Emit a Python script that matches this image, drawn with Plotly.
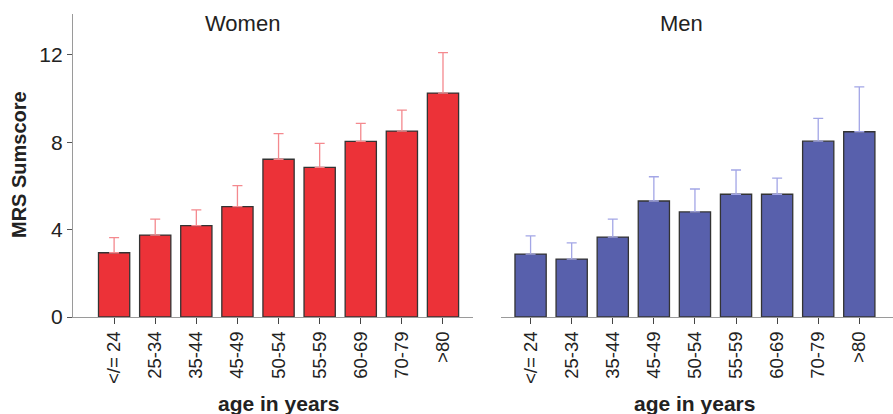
import plotly.graph_objects as go

# Age groups and mean MRS sum scores with upper error bar limits
age_groups = ["</= 24", "25-34", "35-44", "45-49", "50-54", "55-59", "60-69", "70-79", ">80"]

women_mean = [2.94, 3.75, 4.18, 5.05, 7.22, 6.85, 8.04, 8.51, 10.25]
women_upper = [3.63, 4.48, 4.90, 6.01, 8.39, 7.95, 8.86, 9.47, 12.10]

men_mean = [2.88, 2.65, 3.66, 5.31, 4.81, 5.62, 5.62, 8.05, 8.48]
men_upper = [3.71, 3.39, 4.48, 6.42, 5.86, 6.73, 6.36, 9.09, 10.53]

y_ticks = [0, 4, 8, 12]

W, H = 893, 414
TOP, BOTTOM = 14, 97
FONT = "Liberation Sans, Arial, sans-serif"

women_err = [u - m for u, m in zip(women_upper, women_mean)]
men_err = [u - m for u, m in zip(men_upper, men_mean)]


def py(pixel_y):
    """Convert a page pixel row to paper y (paper spans the plot area)."""
    return 1 - (pixel_y - TOP) / (H - TOP - BOTTOM)


fig = go.Figure()

fig.add_trace(go.Bar(
    x=age_groups, y=women_mean, xaxis="x", yaxis="y",
    width=0.76,
    marker=dict(color="#EC3238", line=dict(color="#333333", width=1.3)),
    error_y=dict(type="data", symmetric=False, array=women_err,
                 arrayminus=[0] * len(women_err),
                 color="#F4898E", thickness=1.3, width=5),
    showlegend=False,
))

fig.add_trace(go.Bar(
    x=age_groups, y=men_mean, xaxis="x2", yaxis="y2",
    width=0.76,
    marker=dict(color="#5860AC", line=dict(color="#333333", width=1.3)),
    error_y=dict(type="data", symmetric=False, array=men_err,
                 arrayminus=[0] * len(men_err),
                 color="#A3A6E6", thickness=1.3, width=5),
    showlegend=False,
))

y_range = [0, 13.87]
tick_font = dict(family=FONT, size=18.5, color="#222222")

fig.update_layout(
    width=W, height=H,
    margin=dict(l=0, r=0, t=TOP, b=BOTTOM),
    paper_bgcolor="white", plot_bgcolor="white",
    font=dict(family=FONT, color="#222222"),
    xaxis=dict(
        domain=[73 / W, 473 / W], range=[-1.0, 8.73],
        showline=True, linecolor="#9A9A9A", linewidth=1.2,
        ticks="outside", ticklen=6, tickcolor="#444444", tickwidth=1,
        tickangle=-90, tickfont=tick_font, showgrid=False, zeroline=False,
        anchor="y",
    ),
    yaxis=dict(
        domain=[0, 1], range=y_range, tickvals=y_ticks,
        showline=True, linecolor="#9A9A9A", linewidth=1.2,
        ticks="outside", ticklen=5, tickcolor="#555555",
        tickfont=dict(family=FONT, size=21, color="#222222"),
        showgrid=False, zeroline=False, anchor="x",
    ),
    xaxis2=dict(
        domain=[501 / W, 1.0], range=[-0.72, 8.82],
        showline=True, linecolor="#9A9A9A", linewidth=1.2,
        ticks="outside", ticklen=6, tickcolor="#444444", tickwidth=1,
        tickangle=-90, tickfont=tick_font, showgrid=False, zeroline=False,
        anchor="y2",
    ),
    yaxis2=dict(
        domain=[0, 1], range=y_range, visible=False, anchor="x2",
    ),
    annotations=[
        dict(text="Women", x=243 / W, y=py(23), xref="paper", yref="paper",
             yanchor="middle", xanchor="center", showarrow=False,
             font=dict(family=FONT, size=22, color="#222222")),
        dict(text="Men", x=681 / W, y=py(23), xref="paper", yref="paper",
             yanchor="middle", xanchor="center", showarrow=False,
             font=dict(family=FONT, size=22, color="#222222")),
        dict(text="<b>age in years</b>", x=278 / W, y=py(403),
             xref="paper", yref="paper", xanchor="center", yanchor="middle",
             showarrow=False, font=dict(family=FONT, size=21, color="#222222")),
        dict(text="<b>age in years</b>", x=694 / W, y=py(403),
             xref="paper", yref="paper", xanchor="center", yanchor="middle",
             showarrow=False, font=dict(family=FONT, size=21, color="#222222")),
        dict(text="<b>MRS Sumscore</b>", x=19 / W, y=py(165),
             xref="paper", yref="paper", xanchor="center", yanchor="middle",
             textangle=-90, showarrow=False,
             font=dict(family=FONT, size=20, color="#222222")),
    ],
)

fig.write_html("out.html")
